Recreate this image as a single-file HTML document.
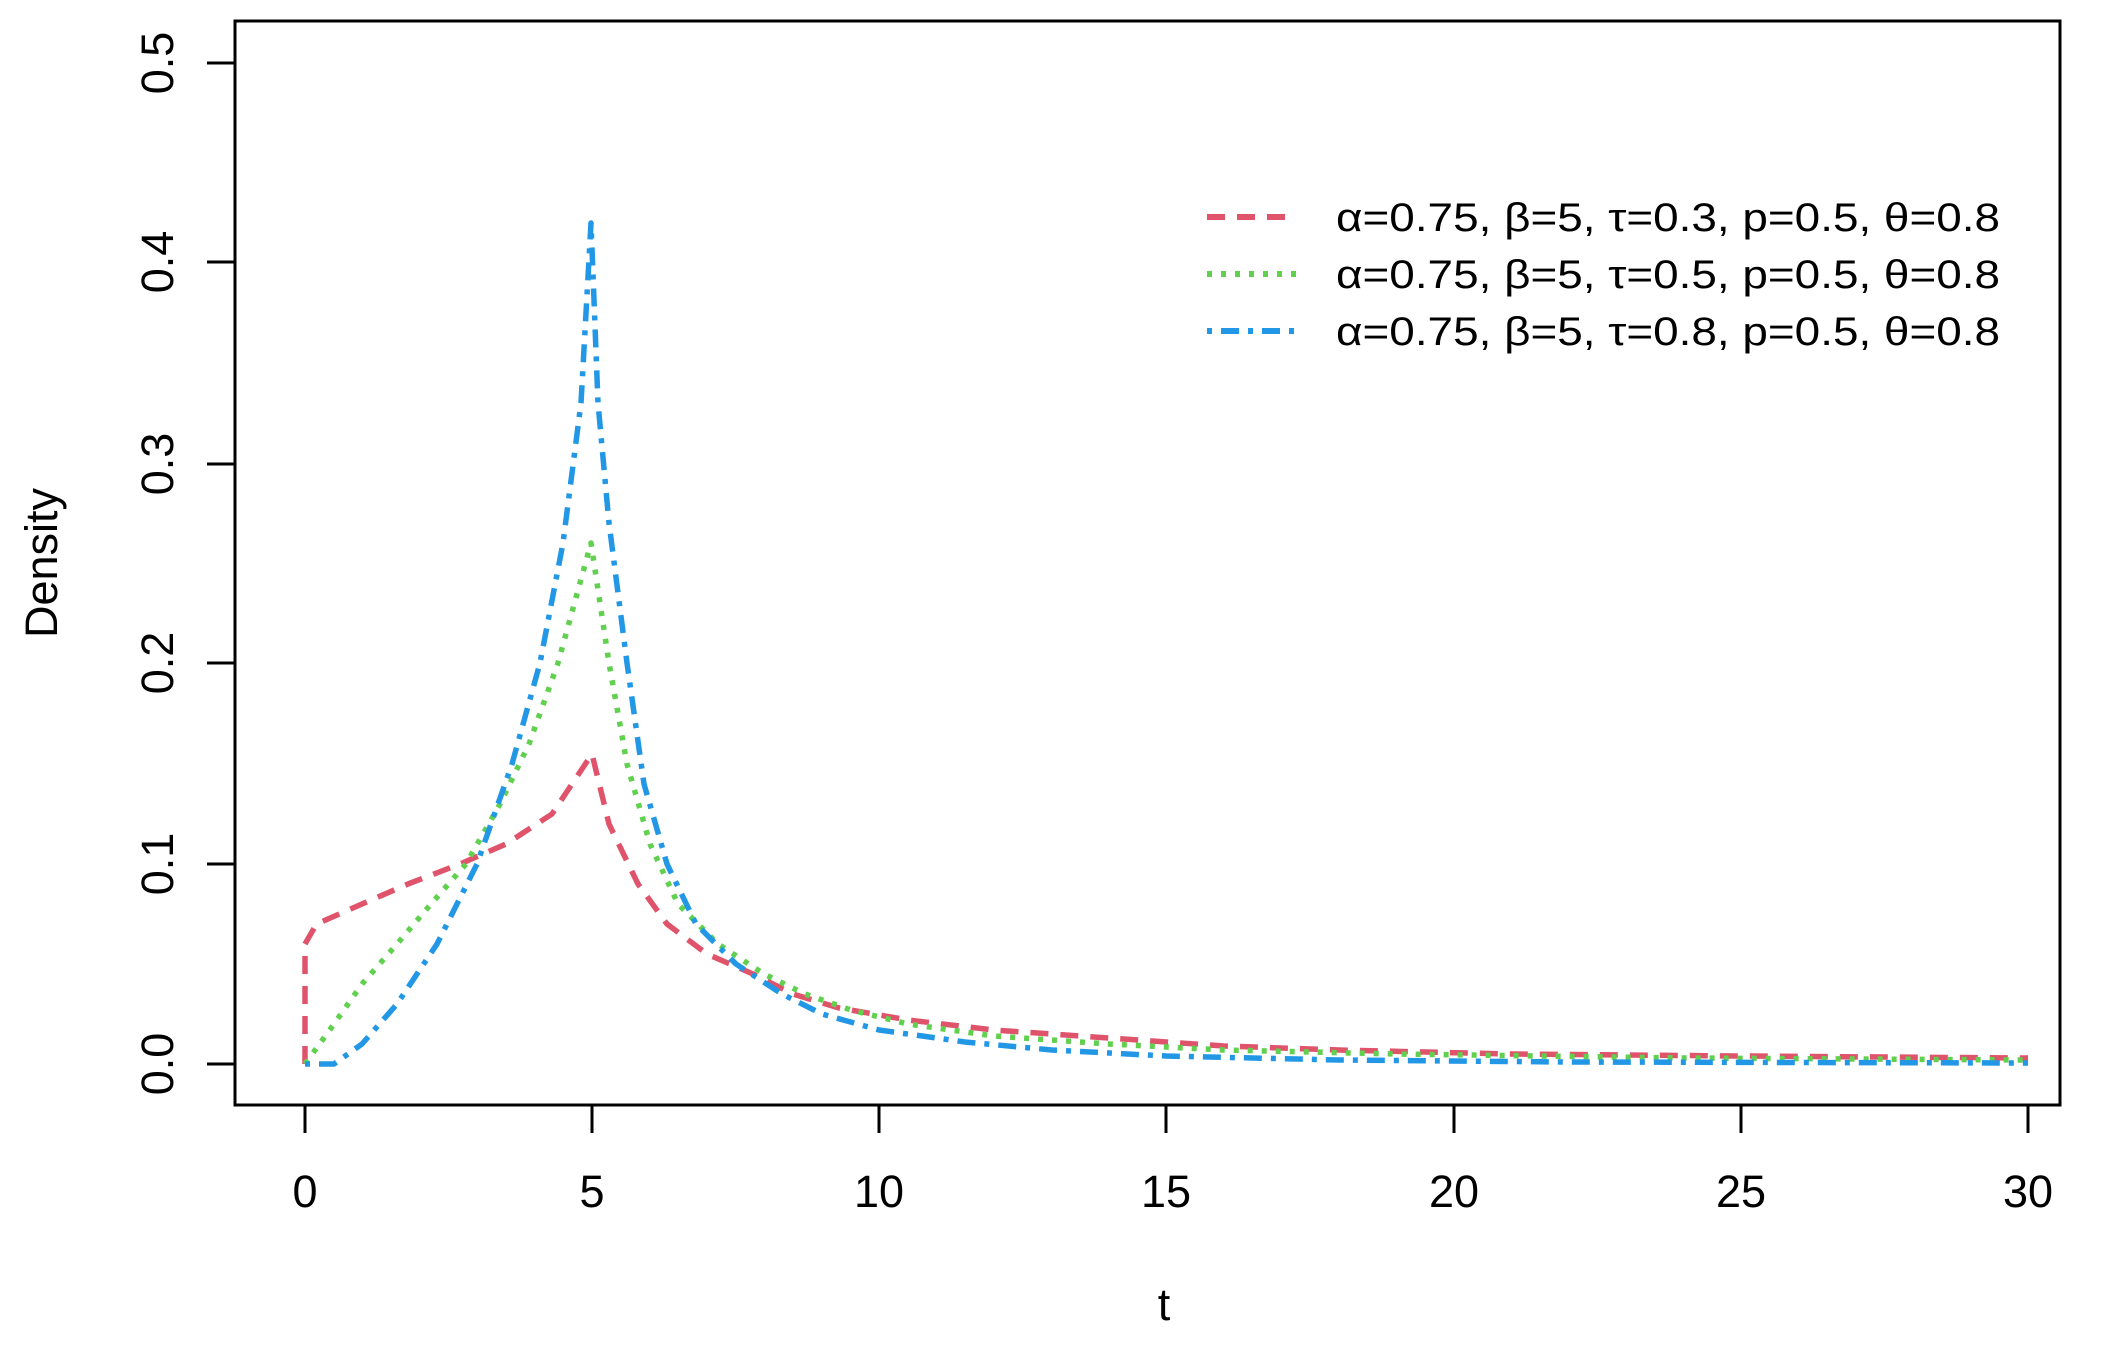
<!DOCTYPE html>
<html><head><meta charset="utf-8"><style>
html,body{margin:0;padding:0;background:#fff}
svg{display:block}
text{font-family:"Liberation Sans",Arial,sans-serif;fill:#000}
</style></head><body>
<svg width="2126" height="1345" viewBox="0 0 2126 1345" xmlns="http://www.w3.org/2000/svg">
<rect x="0" y="0" width="2126" height="1345" fill="#fff"/>
<rect x="235" y="21" width="1825" height="1084" fill="none" stroke="#000" stroke-width="3"/>
<g stroke="#000" stroke-width="3">
<line x1="305" y1="1105" x2="305" y2="1133"/>
<line x1="592" y1="1105" x2="592" y2="1133"/>
<line x1="879" y1="1105" x2="879" y2="1133"/>
<line x1="1166" y1="1105" x2="1166" y2="1133"/>
<line x1="1454" y1="1105" x2="1454" y2="1133"/>
<line x1="1741" y1="1105" x2="1741" y2="1133"/>
<line x1="2028" y1="1105" x2="2028" y2="1133"/>
<line x1="207" y1="1064" x2="235" y2="1064"/>
<line x1="207" y1="864" x2="235" y2="864"/>
<line x1="207" y1="663" x2="235" y2="663"/>
<line x1="207" y1="464" x2="235" y2="464"/>
<line x1="207" y1="262" x2="235" y2="262"/>
<line x1="207" y1="63" x2="235" y2="63"/>
</g>
<g font-size="45" text-anchor="middle">
<text x="305" y="1207">0</text>
<text x="592" y="1207">5</text>
<text x="879" y="1207">10</text>
<text x="1166" y="1207">15</text>
<text x="1454" y="1207">20</text>
<text x="1741" y="1207">25</text>
<text x="2028" y="1207">30</text>
<text transform="translate(173,1064) rotate(-90)">0.0</text>
<text transform="translate(173,864) rotate(-90)">0.1</text>
<text transform="translate(173,663) rotate(-90)">0.2</text>
<text transform="translate(173,464) rotate(-90)">0.3</text>
<text transform="translate(173,262) rotate(-90)">0.4</text>
<text transform="translate(173,63) rotate(-90)">0.5</text>
<text x="1164" y="1320">t</text>
<text transform="translate(57,563) rotate(-90)">Density</text>
</g>
<g fill="none" stroke-width="5.5" stroke-linejoin="round">
<polyline stroke="#DF536B" stroke-dasharray="18 12" points="305,1064 305,944 316.5,924 362,904 408,884 460,864 506,844 552,814 592,754 609,824 638,884 667,924 707,954 753,974 793,994 839,1008 908,1020 994,1030 1109,1038 1224,1046 1339,1050 1511,1054 1741,1056 2028,1058"/>
<polyline stroke="#61D04F" stroke-dasharray="5 9" points="305,1064 334,1024 362,984 397,944 431,904 466,864 500,804 529,744 558,663 591,543 609,663 627,764 650,844 678,904 718,944 764,974 805,994 851,1010 908,1024 994,1036 1109,1044 1224,1050 1396,1054 1683,1058 2028,1060"/>
<polyline stroke="#2297E6" stroke-dasharray="5 9 18 9" points="305,1064 334,1064 362,1044 397,1004 437,944 477,864 512,764 540,663 563,543 581,403 591,223 598,403 609,523 627,663 644,784 667,864 696,924 736,964 782,994 822,1014 879,1030 965,1042 1052,1050 1166,1056 1339,1060 1568,1062 2028,1063"/>
</g>
<g stroke-width="6" fill="none">
<line x1="1207" y1="217" x2="1297" y2="217" stroke="#DF536B" stroke-dasharray="18 12"/>
<line x1="1207" y1="274" x2="1297" y2="274" stroke="#61D04F" stroke-dasharray="5 9"/>
<line x1="1207" y1="331" x2="1297" y2="331" stroke="#2297E6" stroke-dasharray="5 9 18 9"/>
</g>
<g font-size="40">
<text x="1336" y="231" textLength="664" lengthAdjust="spacingAndGlyphs">α=0.75, β=5, τ=0.3, p=0.5, θ=0.8</text>
<text x="1336" y="288" textLength="664" lengthAdjust="spacingAndGlyphs">α=0.75, β=5, τ=0.5, p=0.5, θ=0.8</text>
<text x="1336" y="345" textLength="664" lengthAdjust="spacingAndGlyphs">α=0.75, β=5, τ=0.8, p=0.5, θ=0.8</text>
</g>
</svg>
</body></html>
